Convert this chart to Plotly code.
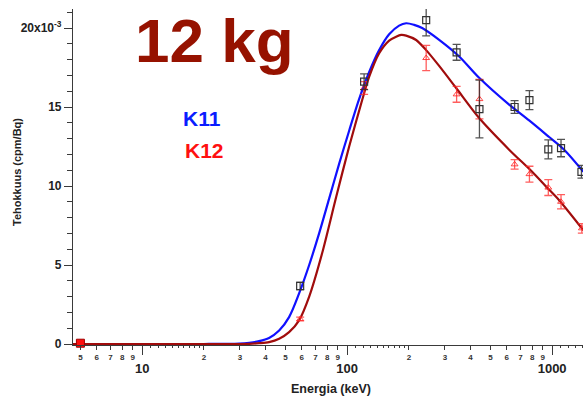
import math
import plotly.graph_objects as go

# ---------------- data (efficiency in units of 1e-3 cpm/Bq) ----------------
# K11 measured points (black squares)
k11_E = [59, 121, 243, 342, 442, 656, 775, 958, 1105, 1390]
k11_eff = [3.67, 16.6, 20.5, 18.46, 14.87, 15.0, 15.44, 12.32, 12.4, 10.9]
k11_err = [0.25, 0.5, 1.0, 0.5, 1.83, 0.4, 0.6, 0.6, 0.55, 0.4]

# K12 measured points (red triangles)
k12_E = [59, 121, 243, 342, 442, 656, 775, 958, 1105, 1396]
k12_eff = [1.58, 16.2, 18.1, 15.8, 15.5, 11.37, 10.75, 9.9, 9.0, 7.32]
k12_err = [0.12, 0.4, 0.8, 0.5, 1.25, 0.3, 0.5, 0.5, 0.45, 0.3]

# low-energy point near zero
low_E = [5.0]
low_eff = [0.05]

# fitted curves
k11_fit_E = [4.6, 10, 20, 29.7, 33.3, 37.2, 41.6, 46.6, 52.1, 58.3, 65.3, 73.0, 81.7, 91.4, 102.3,
             114.4, 128.0, 143.3, 160.3, 179.3, 194.0, 212.3, 232.3, 281.1, 351.9, 440.5,
             616.9, 772.4, 966.9, 1144.4, 1420]
k11_fit = [0, 0, 0, 0.03, 0.08, 0.18, 0.38, 0.85, 1.7, 3.2, 5.0, 7.0, 9.2, 11.4, 13.5,
           15.5, 17.2, 18.6, 19.6, 20.15, 20.3, 20.2, 20.0, 19.25, 18.2, 16.85,
           15.15, 14.15, 13.1, 12.3, 10.9]

k12_fit_E = [4.6, 10, 20, 33.3, 37.2, 41.6, 46.6, 52.1, 58.3, 65.3, 75.5, 88.4, 102.3, 118.4, 128.0,
             143.3, 160.3, 173.4, 183.4, 194.0, 217.1, 242.9, 281.1, 340.3, 440.5, 616.9, 798.8,
             934.8, 1081.9, 1420]
k12_fit = [0, 0, 0, 0.01, 0.05, 0.12, 0.33, 0.75, 1.5, 3.0, 5.74, 9.3, 12.5, 15.44, 16.9,
           18.4, 19.2, 19.45, 19.56, 19.52, 19.24, 18.6, 17.6, 16.2, 14.3, 12.3, 10.9,
           9.96, 9.1, 7.2]

# tick labels
y_tickvals = [0, 5, 10, 15, 20]
y_ticktext = ["0", "5", "10", "15", "20x10<sup>-3</sup>"]
x_minor_vals = [5, 6, 7, 8, 9, 20, 30, 40, 50, 60, 70, 80, 90, 200, 300, 400, 500, 600, 700, 800, 900]
x_minor_text = ["5", "6", "7", "8", "9", "2", "3", "4", "5", "6", "7", "8", "9",
                "2", "3", "4", "5", "6", "7", "8", "9"]
x_tiny_vals = [11, 12, 13, 14, 15, 16, 17, 18, 19, 110, 120, 130, 140, 150, 160, 170, 180, 190,
               1100, 1200, 1300, 1400]
x_major_vals = [10, 100, 1000]
x_major_text = ["10", "100", "1000"]

# ---------------- figure ----------------
W, H = 583, 401
ML, MR, MT, MB = 73, 0, 9, 56
AX = "#3a3a3a"
FONT = "Arial, Liberation Sans, sans-serif"

fig = go.Figure()

fig.add_trace(go.Scatter(x=k11_fit_E, y=k11_fit, mode="lines",
                         line=dict(color="#1010ff", width=2.2, shape="spline", smoothing=0.9),
                         hoverinfo="skip"))
fig.add_trace(go.Scatter(x=k12_fit_E, y=k12_fit, mode="lines",
                         line=dict(color="#a00c0c", width=2.2, shape="spline", smoothing=0.8),
                         hoverinfo="skip"))

fig.add_trace(go.Scatter(x=k12_E, y=k12_eff, mode="markers",
                         marker=dict(symbol="triangle-up-open", size=6, color="rgba(255,40,40,0.85)",
                                     line=dict(width=1)),
                         error_y=dict(type="data", array=k12_err, color="rgba(255,40,40,0.75)",
                                      thickness=1.3, width=4)))
fig.add_trace(go.Scatter(x=k11_E, y=k11_eff, mode="markers",
                         marker=dict(symbol="square-open", size=7, color="#333333", line=dict(width=1.2)),
                         error_y=dict(type="data", array=k11_err, color="rgba(40,40,40,0.8)",
                                      thickness=1.3, width=4)))
fig.add_trace(go.Scatter(x=low_E, y=low_eff, mode="markers",
                         marker=dict(symbol="square", size=8, color="#ff1010",
                                     line=dict(color="#a00000", width=1)),
                         cliponaxis=False))

# dummy trace to activate overlaying axis for major labels
fig.add_trace(go.Scatter(x=[10], y=[None], xaxis="x2", mode="markers", showlegend=False, hoverinfo="skip"))

xr = [math.log10(4.6), math.log10(4.6) + (W - ML - MR) / 205.0]
plot_h = H - MT - MB
y0 = -1.0 / 15.8
yr = [y0, y0 + plot_h / 15.8]

fig.update_layout(
    width=W, height=H, showlegend=False,
    margin=dict(l=ML, r=MR, t=MT, b=MB, autoexpand=False),
    plot_bgcolor="white", paper_bgcolor="white",
    font=dict(family=FONT, color="#222222"),
    xaxis=dict(type="log", range=xr, showgrid=False, zeroline=False, automargin=False,
               showline=True, linecolor=AX, linewidth=1.2,
               tickmode="array", tickvals=x_minor_vals, ticktext=x_minor_text,
               ticks="outside", ticklen=4, tickwidth=1, tickcolor=AX,
               tickfont=dict(size=8, family=FONT, color="#333333", weight="bold"),
               minor=dict(tickmode="array", tickvals=x_tiny_vals, ticks="outside", ticklen=2,
                          tickcolor=AX, showgrid=False)),
    xaxis2=dict(type="log", range=xr, overlaying="x", anchor="y", side="bottom", automargin=False,
                showgrid=False, zeroline=False, showline=False,
                tickmode="array", tickvals=x_major_vals, ticktext=x_major_text,
                ticks="outside", ticklen=9, tickwidth=1.2, tickcolor=AX,
                ticklabelstandoff=2,
                tickfont=dict(size=13, family=FONT, color="#222222", weight="bold")),
    yaxis=dict(range=yr, showgrid=False, zeroline=False, automargin=False,
               showline=True, linecolor=AX, linewidth=1.2,
               tickmode="array", tickvals=y_tickvals, ticktext=y_ticktext,
               ticks="outside", ticklen=8, tickwidth=1, tickcolor=AX,
               tickfont=dict(size=12, family=FONT, color="#222222", weight="bold"),
               minor=dict(dtick=1, ticks="outside", ticklen=5, tickcolor=AX, showgrid=False)),
)

def px_x(p):
    return (p - ML) / (W - ML - MR)

def px_y(p):
    return (H - MB - p) / plot_h

ann = [
    dict(text="12 kg", x=px_x(214), y=px_y(40), size=62, color="#961200"),
    dict(text="K11", x=px_x(202), y=px_y(119), size=21, color="#0a1cff"),
    dict(text="K12", x=px_x(204.5), y=px_y(150.5), size=21, color="#ff1010"),
    dict(text="Energia (keV)", x=px_x(331), y=px_y(389), size=12.5, color="#222222"),
]
for a in ann:
    fig.add_annotation(text="<b>" + a["text"] + "</b>", x=a["x"], y=a["y"], xref="paper", yref="paper",
                       xanchor="center", yanchor="middle", showarrow=False,
                       font=dict(size=a["size"], color=a["color"], family=FONT))
fig.add_annotation(text="<b>Tehokkuus (cpm/Bq)</b>", x=px_x(17), y=px_y(172), xref="paper", yref="paper",
                   xanchor="center", yanchor="middle", showarrow=False, textangle=-90,
                   font=dict(size=11, color="#222222", family=FONT))

fig.write_html("out.html", config={"displayModeBar": False},
               post_script="document.body.style.margin='0';document.body.style.overflow='hidden';")
